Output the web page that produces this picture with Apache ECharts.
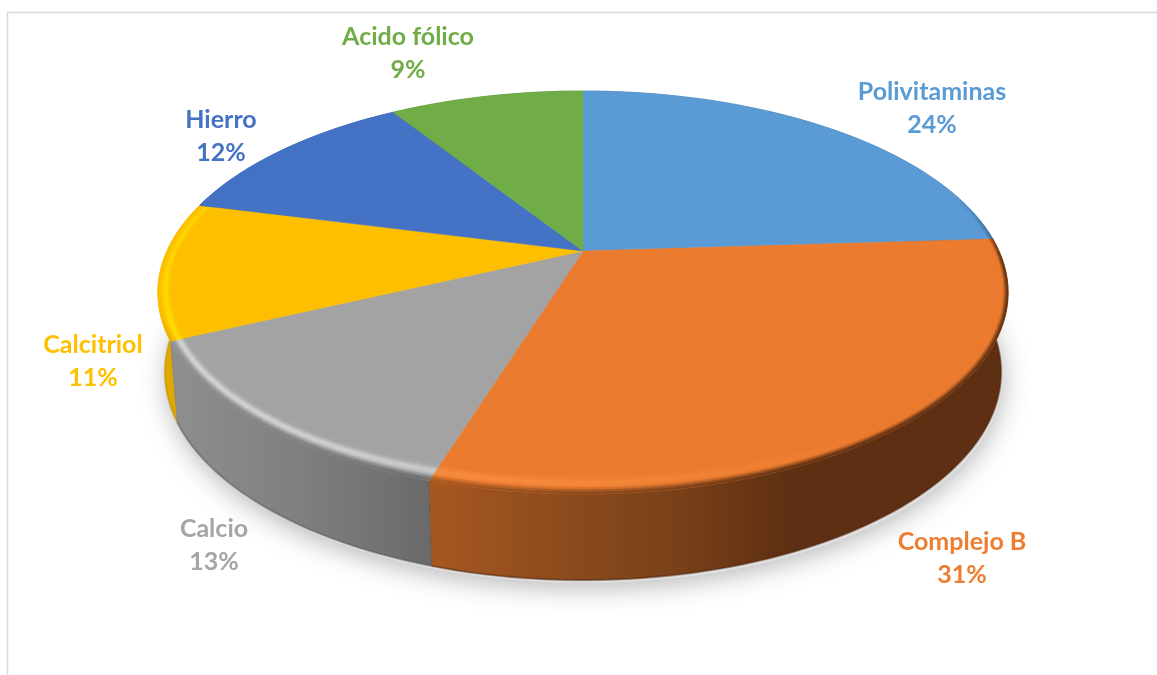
<!DOCTYPE html>
<html><head><meta charset="utf-8">
<style>html,body{margin:0;padding:0;background:#fff}#c{width:1157px;height:675px}</style>
<script src="https://cdn.jsdelivr.net/npm/echarts@6/dist/echarts.min.js"></script>
</head><body><div id="c"></div>
<script>
const categories = ['Polivitaminas','Complejo B','Calcio','Calcitriol','Hierro','Acido fólico'];
const shares = [24,30.8,13.2,11,12,9];

const topColors = ['#5B9BD5','#EB7B2F','#A3A3A3','#FDBF00','#4472C4','#70AD47'];
const glowColors = ['#5B9BD5','#FA8F42','#D0D0D0','#FFDA00','#4472C4','#70AD47'];
const labelColors = ['#5B9BD5','#ED7D31','#A5A5A5','#FFC000','#4472C4','#70AD47'];
const wallRamps = [
  [[560,'#3F6D96'],[1000,'#33597C']],
  [[428,'#A85820'],[560,'#8D4B1D'],[680,'#794019'],[790,'#5E2F12'],[1010,'#5E2F12']],
  [[175,'#8E8E8E'],[300,'#7F7F7F'],[430,'#6A6A6A']],
  [[155,'#E5AC00'],[185,'#DDA500']],
  [[180,'#2F5597'],[400,'#2F5597']],
  [[400,'#4E7A32'],[580,'#4E7A32']]
];
const wallEdges = ['#2A4A68','#4A240B','#555555','#B58900','#23406F','#3B5D26'];
const labelCentres = [[932,108],[962,558],[214,545],[93,361],[221,136],[408,53]];

const total = shares.reduce((a,b)=>a+b,0);
const rows = [];
shares.forEach((v,i)=>{ const start = shares.slice(0,i).reduce((a,b)=>a+b,0); rows.push([v,start,i]); });

// view: a tilted disc, apex off the ellipse centre because of perspective
const CX=583, CY=251, A=193, K=-0.206, B=416;
const ELL_CY=292.5, ELL_RX=425, ELL_RY=201.5;
const BOT_CY=372, BOT_RX=418, BOT_RY=208;
function rim(th){
  const u=Math.sin(th), v=-Math.cos(th), d=1+K*v;
  return [CX+B*u/d, CY+A*v/d];
}
function low(p){ return [CX+(p[0]-CX)*BOT_RX/ELL_RX, BOT_CY+(p[1]-ELL_CY)*BOT_RY/ELL_RY]; }
// point part-way in from the rim, along the line to the apex, so it stays inside its slice
function inset(th,t){
  const p=rim(th), len=Math.hypot(p[0]-CX,p[1]-CY);
  const w=(13+8*Math.abs(Math.cos(th)))*t/len;
  return [p[0]+(CX-p[0])*w, p[1]+(CY-p[1])*w];
}
function angle(pct){ return pct/total*Math.PI*2; }
function arcAngles(a,b,stepDeg){
  const n=Math.max(2,Math.ceil((b-a)/(stepDeg*Math.PI/180))); const r=[];
  for(let i=0;i<=n;i++) r.push(a+(b-a)*i/n);
  return r;
}
function hex(c){ return [1,3,5].map(i=>parseInt(c.substr(i,2),16)); }
function mix(c1,c2,t){ t=Math.max(0,Math.min(1,t)); return c1.map((v,i)=>v+(c2[i]-v)*t); }
function css(c){ return 'rgb('+c.map(v=>Math.round(v)).join(',')+')'; }
function ramp(stops,x){
  if(x<=stops[0][0]) return hex(stops[0][1]);
  for(let i=1;i<stops.length;i++){
    if(x<=stops[i][0]){ return mix(hex(stops[i-1][1]),hex(stops[i][1]),(x-stops[i-1][0])/(stops[i][0]-stops[i-1][0])); }
  }
  return hex(stops[stops.length-1][1]);
}
function smooth(a,b,x){ const t=Math.max(0,Math.min(1,(x-a)/(b-a))); return t*t*(3-2*t); }

function renderShadow(params,api){
  const pts=arcAngles(0,Math.PI*2,3).map(t=>{const p=low(rim(t));return [p[0]+2,p[1]+3];});
  return {type:'polygon',shape:{points:pts},silent:true,style:{fill:'#E0E0E0',shadowBlur:26,shadowColor:'rgba(170,170,170,0.85)',shadowOffsetY:5}};
}
function renderWall(params,api){
  const v=api.value(0), s=api.value(1), i=api.value(2);
  const ths=arcAngles(angle(s),angle(s+v),1.5);
  const top=ths.map(rim), bot=top.map(low);
  const stops=wallRamps[i], x0=stops[0][0], x1=stops[stops.length-1][0];
  const fill={type:'linear',x:x0,y:0,x2:x1,y2:0,global:true,
    colorStops:stops.map(st=>({offset:(st[0]-x0)/(x1-x0),color:st[1]}))};
  return {type:'group',silent:true,children:[
    {type:'polygon',shape:{points:top.concat(bot.slice().reverse())},style:{fill:fill,stroke:css(ramp(stops,top[0][0])),lineWidth:0.4}},
    {type:'polyline',shape:{points:bot},style:{fill:null,stroke:wallEdges[i],lineWidth:2.2,opacity:0.4}}
  ]};
}
function renderTop(params,api){
  const v=api.value(0), s=api.value(1), i=api.value(2);
  const ths=arcAngles(angle(s),angle(s+v),1);
  const base=hex(topColors[i]), glow=hex(glowColors[i]), stops=wallRamps[i];
  const kids=[{type:'polygon',shape:{points:[[CX,CY]].concat(ths.map(rim))},style:{fill:topColors[i],stroke:topColors[i],lineWidth:0.5}}];
  const band=arcAngles(angle(s),angle(s+v),2);
  const steps=[0,0.12,0.24,0.36,0.48,0.6,0.7,0.8,0.9,1]; // 0 = inner edge of the bevel, 1 = outer rim
  const deg=Math.PI/180;
  for(let a=0;a<band.length-1;a++){
    const mid=(band[a]+band[a+1])/2;
    const h=Math.max(0,Math.cos(mid-235*deg));
    // the wall colour bleeds into the rim on the front and right, fading out on the left side
    const front=Math.max(0,Math.min(1,(Math.cos(mid-Math.PI)+0.3)*3))*(1-smooth(238*deg,258*deg,mid));
    if(h<0.02 && front<0.02) continue;
    const wall=ramp(stops,rim(mid)[0]);
    for(let k=0;k<steps.length-1;k++){
      const t=(steps[k]+steps[k+1])/2;
      const bump=Math.exp(-Math.pow((t-0.48)/0.22,2));
      let c=mix(base,glow,h*bump*1.1);
      c=mix(c,wall,smooth(0.62,1,t)*front);
      const col=css(c);
      kids.push({type:'polygon',shape:{points:[inset(band[a],1-steps[k]),inset(band[a+1],1-steps[k]),inset(band[a+1],1-steps[k+1]),inset(band[a],1-steps[k+1])]},
        style:{fill:col,stroke:col,lineWidth:0.6}});
    }
  }
  return {type:'group',silent:true,children:kids};
}
function renderLabel(params,api){
  const v=api.value(0), i=api.value(2), c=labelCentres[i];
  return {type:'text',silent:true,x:c[0],y:c[1],style:{
    text:categories[i]+'\n'+Math.round(v/total*100)+'%',
    fill:labelColors[i],font:'bold 25px Lato, Carlito, sans-serif',
    align:'center',verticalAlign:'middle',lineHeight:33}};
}
const chart=echarts.init(document.getElementById('c'),null,{renderer:'canvas'});
const wallOrder=[5,4,0,3,2,1].map(i=>rows[i]);
chart.setOption({
  animation:false,backgroundColor:'#fff',
  graphic:[{type:'rect',silent:true,z:0,shape:{x:7.5,y:12.5,width:1300,height:800},style:{fill:'none',stroke:'#D9D9D9',lineWidth:1.6}}],
  series:[
    {type:'custom',coordinateSystem:'none',z:2,renderItem:renderShadow,data:[[total]],silent:true},
    {type:'custom',coordinateSystem:'none',z:3,renderItem:renderWall,data:wallOrder,silent:true},
    {type:'custom',coordinateSystem:'none',z:4,renderItem:renderTop,data:rows,silent:true},
    {type:'custom',coordinateSystem:'none',z:5,renderItem:renderLabel,data:rows,silent:true}
  ]
});
</script></body></html>
